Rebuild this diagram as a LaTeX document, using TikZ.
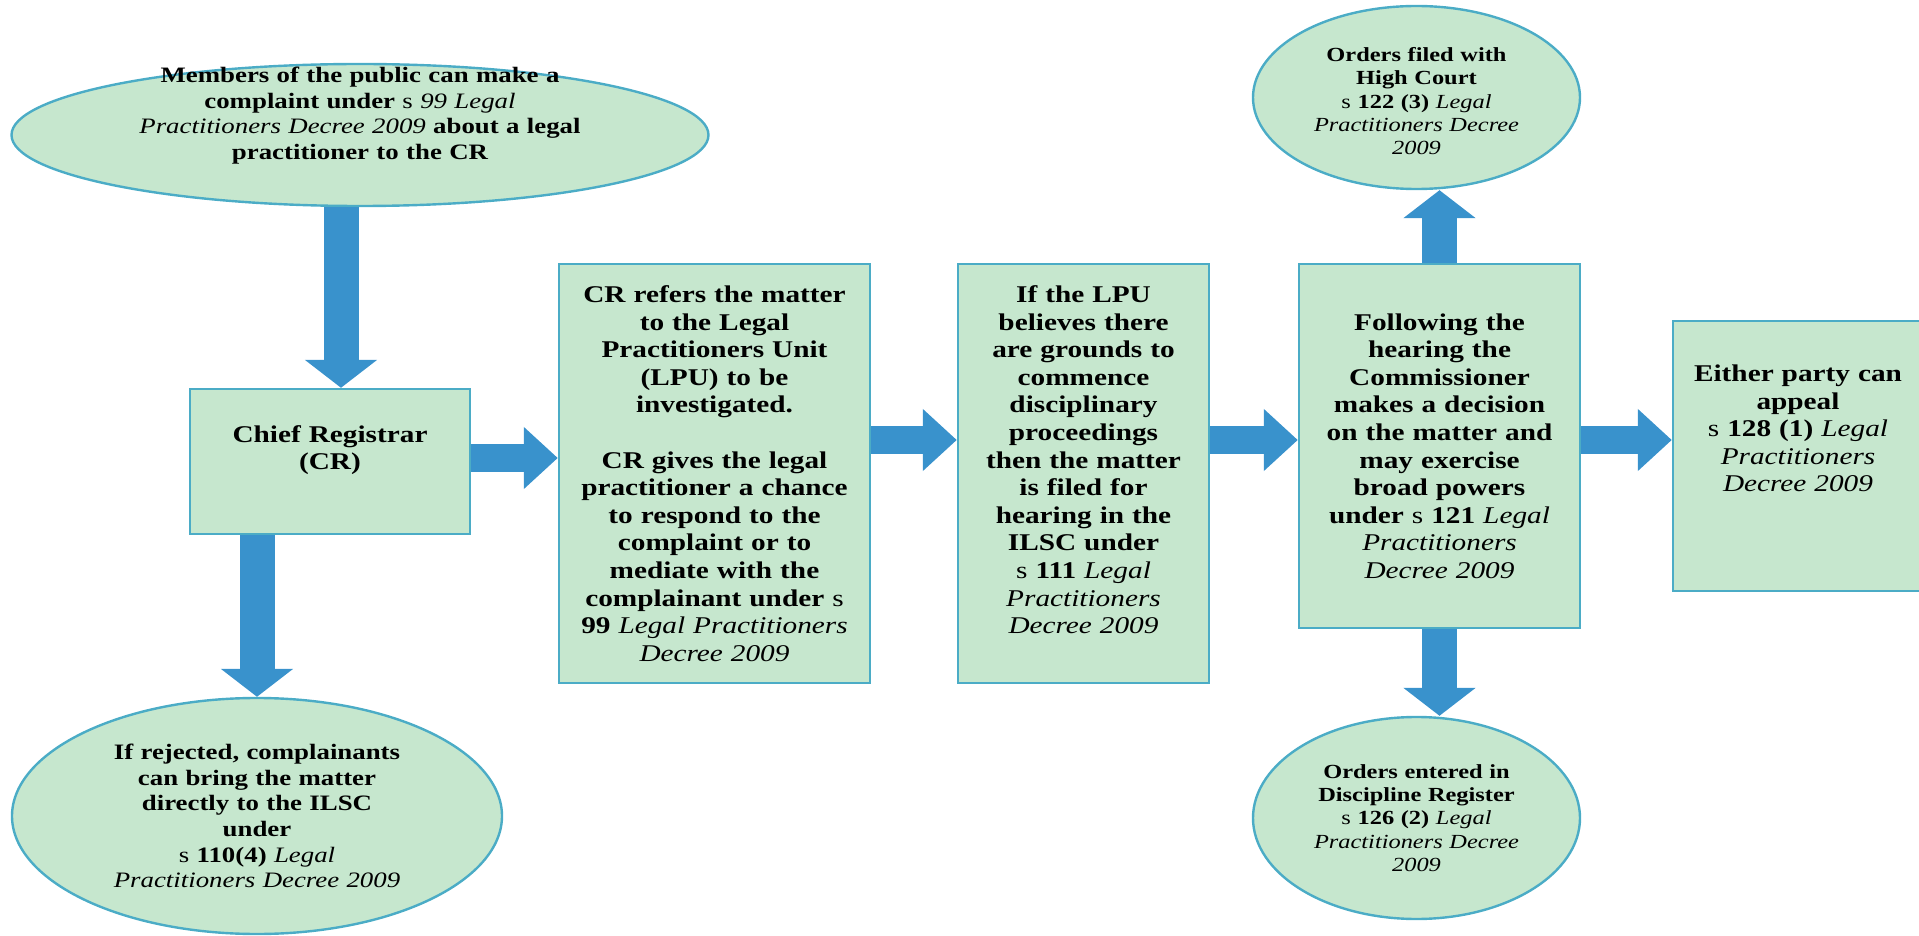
\documentclass[tikz,border=0pt]{standalone}
\usepackage{fontspec}
\setmainfont{Liberation Serif}[FakeStretch=1.22]
\usepackage{tikz}
\usetikzlibrary{arrows.meta,shapes.geometric}

\definecolor{boxgreen}{RGB}{198,231,206}
\definecolor{boxline}{RGB}{75,172,198}
\definecolor{arrblue}{RGB}{57,146,204}
\newcommand{\decree}[1]{{\mdseries\itshape #1}}
\newcommand{\stxt}{{\mdseries s}}

\begin{document}
\begin{tikzpicture}[x=0.5pt, y=-0.5pt,
	b/.style={draw=boxline, fill=boxgreen, line width=1.2pt, inner sep=2pt, align=center,
		font=\fontsize{12}{13.8}\selectfont\bfseries},
	el/.style={b, ellipse, inner xsep=0pt, inner ysep=-40pt},
	bigtxt/.style={font=\fontsize{11}{12.8}\selectfont\bfseries},
	smalltxt/.style={font=\fontsize{10}{11.7}\selectfont\bfseries},
	harr/.style={arrblue, line width=14pt, -{Triangle[width=30pt,length=17pt]}},
	varr/.style={arrblue, line width=17.5pt, -{Triangle[width=35.5pt,length=14pt]}}]
	\useasboundingbox (0,0) rectangle (1919,936);
	% left column
	\node[el, bigtxt, minimum width=348.5pt, minimum height=71pt, text width=230pt] (pub) at (360,135)
		{Members of the public can make a\\ complaint under \stxt{} \decree{99 Legal}\\
		\decree{Practitioners Decree 2009} about a legal\\ practitioner to the CR\\[9pt]~};
	\node[b, minimum width=140pt, minimum height=72.5pt, text width=130pt] (cr) at (330,461.5)
		{Chief Registrar\\ (CR)\\~};
	\node[el, bigtxt, minimum width=245pt, minimum height=118pt, text width=160pt] (rej) at (257,816)
		{If rejected, complainants\\ can bring the matter\\ directly to the ILSC\\ under\\
		\stxt{} 110(4) \decree{Legal}\\ \decree{Practitioners Decree 2009}};
	% main row
	\node[b, minimum width=155.5pt, minimum height=209.5pt, text width=150pt] (refer) at (714.5,473.5)
		{CR refers the matter\\ to the Legal\\ Practitioners Unit\\ (LPU) to be\\ investigated.\\[13.8pt]
		CR gives the legal\\ practitioner a chance\\ to respond to the\\ complaint or to\\
		mediate with the\\ complainant under \stxt\\ 99 \decree{Legal Practitioners}\\ \decree{Decree 2009}};
	\node[b, minimum width=125.5pt, minimum height=209.5pt, text width=120pt] (lpu) at (1083.5,473.5)
		{If the LPU\\ believes there\\ are grounds to\\ commence\\ disciplinary\\ proceedings\\
		then the matter\\ is filed for\\ hearing in the\\ ILSC under\\ \stxt{} 111 \decree{Legal}\\
		\decree{Practitioners}\\ \decree{Decree 2009}\\~};
	\node[b, minimum width=140.5pt, minimum height=182pt, text width=135pt] (hear) at (1439.5,446)
		{Following the\\ hearing the\\ Commissioner\\ makes a decision\\ on the matter and\\
		may exercise\\ broad powers\\ under \stxt{} 121 \decree{Legal}\\ \decree{Practitioners}\\
		\decree{Decree 2009}};
	\node[b, minimum width=125pt, minimum height=135pt, text width=120pt] (appeal) at (1798,456)
		{Either party can\\ appeal\\ \stxt{} 128 (1) \decree{Legal}\\ \decree{Practitioners}\\
		\decree{Decree 2009}\\~\\~};
	% orders
	\node[el, smalltxt, minimum width=163.5pt, minimum height=91.5pt, text width=110pt] (hc) at (1416.5,97.5)
		{~\\[-1pt]Orders filed with\\ High Court\\ \stxt{} 122 (3) \decree{Legal}\\ \decree{Practitioners Decree}\\
		\decree{2009}};
	\node[el, smalltxt, minimum width=163.5pt, minimum height=101pt, text width=110pt] (reg) at (1416.5,818)
		{Orders entered in\\ Discipline Register\\ \stxt{} 126 (2) \decree{Legal}\\
		\decree{Practitioners Decree}\\ \decree{2009}};
	% arrows
	\coordinate (row1) at (0,458);
	\coordinate (row2) at (0,440);
	\draw[varr] ([xshift=5.5pt]cr.north |- pub.south) -- ([xshift=5.5pt]cr.north);
	\draw[varr] (cr.south -| rej.north) -- (rej.north);
	\draw[harr] (cr.east |- row1) -- (refer.west |- row1);
	\draw[harr] (refer.east |- row2) -- (lpu.west |- row2);
	\draw[harr] (lpu.east |- row2) -- (hear.west |- row2);
	\draw[harr] (hear.east |- row2) -- (appeal.west |- row2);
	\draw[varr] (hear.north) -- (hear.north |- hc.south);
	\draw[varr] (hear.south) -- (hear.south |- reg.north);
\end{tikzpicture}
\end{document}
